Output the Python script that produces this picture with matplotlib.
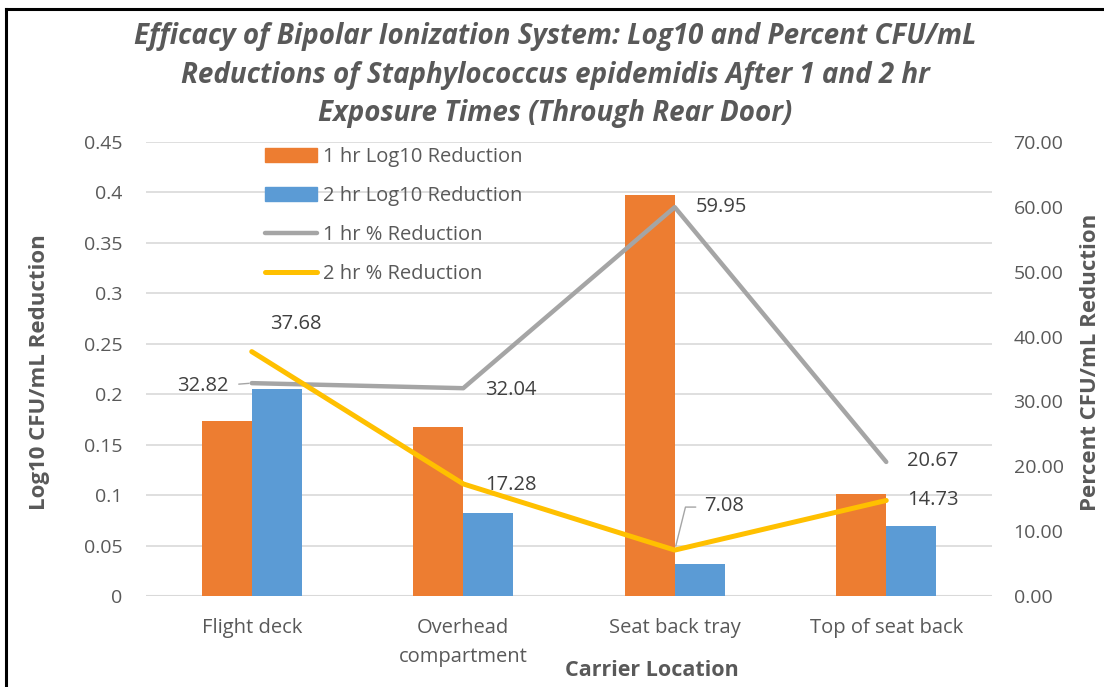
import matplotlib
matplotlib.use("Agg")
import matplotlib.pyplot as plt
from matplotlib.lines import Line2D
from matplotlib.patches import Patch
import numpy as np

categories = ["Flight deck", "Overhead\ncompartment", "Seat back tray", "Top of seat back"]
log_1hr = [0.173, 0.168, 0.397, 0.101]
log_2hr = [0.205, 0.082, 0.032, 0.069]
pct_1hr = [32.82, 32.04, 59.95, 20.67]
pct_2hr = [37.68, 17.28, 7.08, 14.73]
left_ticks = [0, 0.05, 0.1, 0.15, 0.2, 0.25, 0.3, 0.35, 0.4, 0.45]
left_tick_labels = ["0", "0.05", "0.1", "0.15", "0.2", "0.25", "0.3", "0.35", "0.4", "0.45"]
right_ticks = [0, 10, 20, 30, 40, 50, 60, 70]

FONT = "Open Sans"
TXT = "#595959"
LBL = "#404040"
ORANGE = "#ED7D31"
BLUE = "#5B9BD5"
GRAY = "#A5A5A5"
YELLOW = "#FFC000"

plt.rcParams["font.family"] = [FONT, "DejaVu Sans"]

fig = plt.figure(figsize=(11.04, 6.87), dpi=100)
W, H = 1104, 687
ax = fig.add_axes([146 / W, (H - 596) / H, (992 - 146) / W, (596 - 142) / H])
ax2 = ax.twinx()

x = np.arange(len(categories))
bw = 0.236
ax.bar(x - bw / 2, log_1hr, bw, color=ORANGE, zorder=2, label="1 hr Log10 Reduction")
ax.bar(x + bw / 2, log_2hr, bw, color=BLUE, zorder=2, label="2 hr Log10 Reduction")
ax.set_ylim(0, 0.45)
ax.set_xlim(-0.5, 3.5)
ax.set_yticks(left_ticks)
ax.set_yticklabels(left_tick_labels)
ax.set_xticks(x)
ax.set_xticklabels(categories, linespacing=1.6)
ax.yaxis.grid(True, color="#D9D9D9", linewidth=1.2, zorder=0)
ax.set_axisbelow(True)
for s in ["top", "right", "left", "bottom"]:
    ax.spines[s].set_visible(False)
    ax2.spines[s].set_visible(False)
ax.axhline(0, color="#D9D9D9", linewidth=1.5, zorder=1)
ax.tick_params(axis="y", length=0, labelsize=14, colors=TXT, pad=17)
ax.tick_params(axis="x", length=0, labelsize=14.5, colors=TXT, pad=16)

ax2.plot(x, pct_1hr, color=GRAY, linewidth=3.2, solid_capstyle="round", zorder=3, label="1 hr % Reduction")
ax2.plot(x, pct_2hr, color=YELLOW, linewidth=3.6, solid_capstyle="round", zorder=4, label="2 hr % Reduction")
ax2.set_ylim(0, 70)
ax2.set_yticks(right_ticks)
ax2.set_yticklabels([f"{v:.2f}" for v in right_ticks])
ax2.tick_params(axis="y", length=0, labelsize=14, colors=TXT, pad=15.5)

# data labels (offsets in pixels)
def lab(xi, yi, txt, dx, dy, ha="left"):
    ax2.annotate(txt, (xi, yi), xytext=(dx, dy), textcoords="offset pixels",
                 ha=ha, va="center", fontsize=14.5, color=LBL, zorder=6)

lab(0, pct_1hr[0], f"{pct_1hr[0]:.2f}", -23, -3, ha="right")
lab(0, pct_2hr[0], f"{pct_2hr[0]:.2f}", 44, 28, ha="center")
lab(1, pct_1hr[1], f"{pct_1hr[1]:.2f}", 22, -2)
lab(1, pct_2hr[1], f"{pct_2hr[1]:.2f}", 22, -1)
lab(2, pct_1hr[2], f"{pct_1hr[2]:.2f}", 21, 0)
lab(2, pct_2hr[2], f"{pct_2hr[2]:.2f}", 29, 44)
lab(3, pct_1hr[3], f"{pct_1hr[3]:.2f}", 21, 1)
lab(3, pct_2hr[3], f"{pct_2hr[3]:.2f}", 21, 0)

# leader lines
ax2.annotate("", (0, pct_1hr[0]), xytext=(-13, -1), textcoords="offset pixels",
             arrowprops=dict(arrowstyle="-", color=GRAY, lw=1.0, shrinkA=0, shrinkB=2))
ax2.annotate("", (2, pct_2hr[2]), xytext=(21, 43), textcoords="offset pixels",
             arrowprops=dict(arrowstyle="-", color=GRAY, lw=1.0, shrinkA=0, shrinkB=3,
                             connectionstyle="angle,angleA=0,angleB=76,rad=0"))

# legend
handles = [Patch(color=ORANGE), Patch(color=BLUE),
           Line2D([], [], color=GRAY, lw=3.2, solid_capstyle="round"),
           Line2D([], [], color=YELLOW, lw=3.6, solid_capstyle="round")]
labels = ["1 hr Log10 Reduction", "2 hr Log10 Reduction", "1 hr % Reduction", "2 hr % Reduction"]
leg = fig.legend(handles, labels, loc="upper left", bbox_to_anchor=(257 / W, 1 - 139 / H),
                 frameon=False, fontsize=14.5, handlelength=2.6, handleheight=0.7,
                 labelspacing=0.95, handletextpad=0.3, borderaxespad=0)
for t in leg.get_texts():
    t.set_color(TXT)

# axis titles
fig.text(40 / W, 1 - 372 / H, "Log10 CFU/mL Reduction", rotation=90, ha="center", va="center",
         fontsize=16, fontweight="bold", color=TXT)
fig.text(1090 / W, 1 - 362 / H, "Percent CFU/mL Reduction", rotation=90, ha="center", va="center",
         fontsize=16, fontweight="bold", color=TXT)
fig.text(652 / W, 1 - 671 / H, "Carrier Location", ha="center", va="center",
         fontsize=15.5, fontweight="bold", color=TXT)

title = ("Efficacy of Bipolar Ionization System: Log10 and Percent CFU/mL\n"
         "Reductions of Staphylococcus epidemidis After 1 and 2 hr\n"
         "Exposure Times (Through Rear Door)")
fig.text(555 / W, 1 - 75 / H, title, ha="center", va="center", fontsize=20,
         fontweight="bold", fontstyle="italic", color=TXT, linespacing=1.45)

# frame (left and top edges)
fig.add_artist(Line2D([6 / W, 6 / W], [0, 1 - 9 / H], color="black", lw=2.2, transform=fig.transFigure))
fig.add_artist(Line2D([6 / W, 1], [1 - 9 / H, 1 - 9 / H], color="black", lw=2.2, transform=fig.transFigure))

fig.savefig("out.png", dpi=100)
